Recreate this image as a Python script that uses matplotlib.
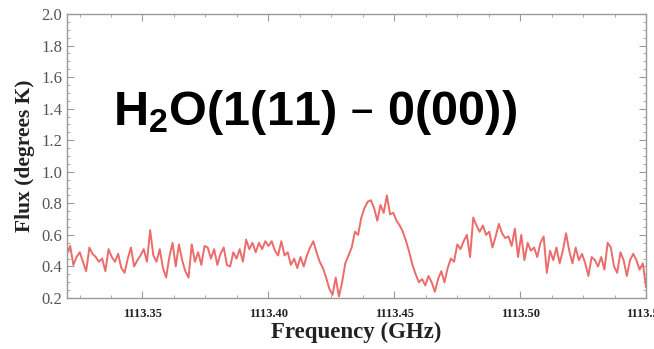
import numpy as np
import matplotlib
matplotlib.use('Agg')
import matplotlib.pyplot as plt
from matplotlib.ticker import MultipleLocator, FormatStrFormatter

# spectrum, channels evenly spaced in frequency
freq_start = 1113.320
freq_end = 1113.550
flux = [
    0.48, 0.53, 0.41, 0.46, 0.49, 0.43, 0.37, 0.52, 0.48, 0.46,
    0.43, 0.45, 0.37, 0.51, 0.46, 0.43, 0.48, 0.39, 0.36, 0.45,
    0.52, 0.40, 0.44, 0.47, 0.51, 0.43, 0.63, 0.47, 0.43, 0.51,
    0.39, 0.33, 0.46, 0.55, 0.40, 0.54, 0.44, 0.37, 0.33, 0.54,
    0.43, 0.49, 0.41, 0.53,
    0.52, 0.45, 0.51, 0.41, 0.48, 0.52, 0.41, 0.40, 0.49, 0.45,
    0.51, 0.43, 0.57, 0.51, 0.55, 0.49, 0.55, 0.51, 0.56, 0.53,
    0.56, 0.50, 0.47, 0.56, 0.47, 0.49, 0.41, 0.45, 0.39, 0.46,
    0.40, 0.47, 0.52, 0.56, 0.49, 0.43, 0.39, 0.33, 0.26, 0.22,
    0.33, 0.21, 0.30,
    0.42, 0.47, 0.52, 0.62, 0.60, 0.71, 0.77, 0.81, 0.82, 0.77,
    0.69, 0.79, 0.74, 0.85, 0.73, 0.74, 0.69, 0.66, 0.62, 0.56,
    0.49, 0.41, 0.35, 0.30, 0.32, 0.28, 0.34, 0.30, 0.24, 0.32,
    0.37, 0.30, 0.39, 0.45, 0.43, 0.54, 0.51, 0.56, 0.60, 0.46,
    0.71, 0.66, 0.62, 0.66, 0.60, 0.62, 0.52,
    0.59, 0.67, 0.61, 0.58, 0.59, 0.53, 0.64, 0.46, 0.60, 0.44,
    0.55, 0.50, 0.52, 0.46, 0.55, 0.59, 0.36, 0.50, 0.44, 0.52,
    0.42, 0.50, 0.61, 0.50, 0.42, 0.52, 0.44, 0.48, 0.42, 0.34,
    0.46, 0.44, 0.40, 0.46, 0.38, 0.55, 0.52, 0.40, 0.36, 0.49,
    0.44, 0.34, 0.44, 0.48, 0.44, 0.38, 0.42, 0.27,
]
freq = np.linspace(freq_start, freq_end, len(flux))

y_ticks = [0.2, 0.4, 0.6, 0.8, 1.0, 1.2, 1.4, 1.6, 1.8, 2.0]
x_ticks = [1113.35, 1113.40, 1113.45, 1113.50, 1113.55]
line_label = r'H$_2$O(1(11) – 0(00))'

plt.rcParams['mathtext.default'] = 'regular'
serif = 'Liberation Serif'

fig = plt.figure(figsize=(6.54, 3.49), dpi=100)
ax = fig.add_axes([0.1024, 0.146, 0.8854, 0.814])

ax.plot(freq, flux, color='#ec6b6b', linewidth=1.4)

ax.set_xlim(freq_start, freq_end)
ax.set_ylim(0.2, 2.0)
ax.set_xticks(x_ticks)
ax.set_yticks(y_ticks)
ax.xaxis.set_minor_locator(MultipleLocator(0.0125))
ax.yaxis.set_minor_locator(MultipleLocator(0.05))
ax.xaxis.set_major_formatter(FormatStrFormatter('%.2f'))
ax.yaxis.set_major_formatter(FormatStrFormatter('%.1f'))

for s in ax.spines.values():
    s.set_color('#9a9a9a')
    s.set_linewidth(1.0)

ax.tick_params(which='both', direction='in', top=True, right=True, color='#9a9a9a')
ax.tick_params(which='major', length=5, width=0.8)
ax.tick_params(which='minor', length=2.5, width=0.6)
ax.tick_params(axis='x', which='major', pad=7, labelsize=9, labelcolor='#222222')
ax.tick_params(axis='y', which='major', pad=3.5, labelsize=12, labelcolor='#555555')
for lab in ax.get_xticklabels():
    lab.set_fontfamily(serif)
    lab.set_fontweight('bold')
for lab in ax.get_yticklabels():
    lab.set_fontfamily(serif)

ax.set_xlabel('Frequency (GHz)', fontfamily=serif, fontweight='bold', fontsize=16.5, color='#222222')
ax.set_ylabel('Flux (degrees K)', fontfamily=serif, fontweight='bold', fontsize=15.5, color='#222222')
ax.xaxis.set_label_coords(0.5, -0.085)
ax.yaxis.set_label_coords(-0.055, 0.5)

ax.text(0.079, 0.609, line_label, transform=ax.transAxes, fontfamily='Liberation Sans',
        fontweight='bold', fontsize=35, color='black', ha='left', va='baseline')

fig.savefig('out.png', dpi=100, facecolor='white')
